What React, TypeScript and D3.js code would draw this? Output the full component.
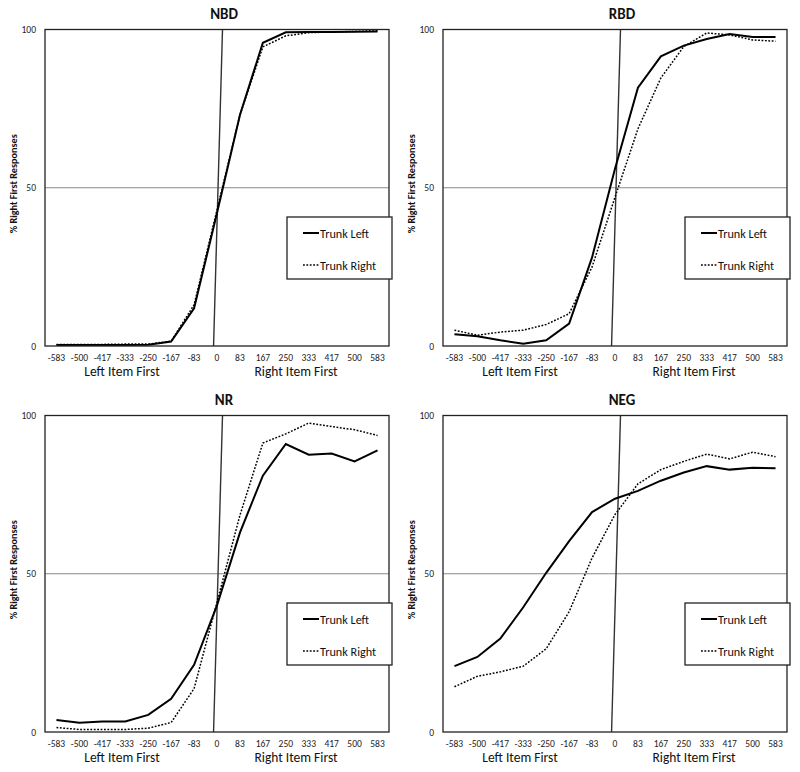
import * as d3 from 'd3'

const categories = ['-583', '-500', '-417', '-333', '-250', '-167', '-83', '0', '83', '167', '250', '333', '417', '500', '583']
const yTicks = [0, 50, 100]
const seriesNames = ['Trunk Left', 'Trunk Right']
const panelTitles = ['NBD', 'RBD', 'NR', 'NEG']

const nbdLeft = [0.3, 0.3, 0.3, 0.3, 0.4, 1.4, 11.9, 42, 73, 95.8, 99.1, 99.2, 99.2, 99.3, 99.4]
const nbdRight = [0.5, 0.5, 0.5, 0.6, 0.6, 1.5, 13, 43, 73, 94.5, 98, 99, 99.2, 99.4, 99.6]
const rbdLeft = [3.7, 3.1, 1.8, 0.7, 1.8, 7.1, 28, 56, 81.6, 91.5, 94.9, 97, 98.6, 97.6, 97.6]
const rbdRight = [5, 3.4, 4.4, 5, 6.8, 10.2, 25, 47, 68.6, 84.7, 94.6, 98.9, 98.3, 96.7, 96.3]
const nrLeft = [3.8, 2.9, 3.3, 3.3, 5.4, 10.5, 21.2, 40, 63, 81, 91, 87.6, 88, 85.5, 89]
const nrRight = [1.4, 0.8, 0.8, 0.8, 1.2, 3, 13.7, 41, 68.5, 91.3, 94.2, 97.6, 96.5, 95.5, 93.7]
const negLeft = [20.8, 23.7, 29.5, 39.4, 50.3, 60.3, 69.5, 73.7, 76.2, 79.4, 82, 84, 82.9, 83.5, 83.3]
const negRight = [14.3, 17.6, 19, 20.8, 26.3, 38, 55, 68.7, 78.4, 82.9, 85.5, 87.8, 86.3, 88.4, 87]

const leftSeries = [nbdLeft, rbdLeft, nrLeft, negLeft]
const rightSeries = [nbdRight, rbdRight, nrRight, negRight]

// the slanted "simultaneous" marker, in category-index units (bottom, top)
const zeroMarker = [6.85, 7.24]

const FONT = 'Carlito, Calibri, Lato, sans-serif'
const L = 45, R = 389, T = 29.5, B = 346

function Panel({ title, left, right, ox, oy }: { title: string; left: number[]; right: number[]; ox: number; oy: number }) {
  const x = d3.scaleLinear().domain([-0.5, categories.length - 0.5]).range([L, R])
  const y = d3.scaleLinear().domain([0, 100]).range([B, T])
  const line = d3.line<number>().x((_, i) => x(i)).y(d => y(d))

  return (
    <g transform={`translate(${ox},${oy})`} fontFamily={FONT}>
      <text x={224} y={19} textAnchor="middle" fontSize={15} fontWeight="bold" fill="#111">{title}</text>
      <line x1={L} x2={R} y1={y(50)} y2={y(50)} stroke="#8a8a8a" strokeWidth={1} />
      <line x1={x(zeroMarker[0])} x2={x(zeroMarker[1])} y1={B} y2={T} stroke="#333" strokeWidth={1.4} />
      <path d={line(right) ?? ''} fill="none" stroke="#000" strokeWidth={1.5} strokeDasharray="1.8 1.6" />
      <path d={line(left) ?? ''} fill="none" stroke="#000" strokeWidth={2} />
      <rect x={L} y={T} width={R - L} height={B - T} fill="none" stroke="#222" strokeWidth={1.3} />
      {yTicks.map(t => (
        <text key={t} x={36} y={y(t) + 3.5} textAnchor="end" fontSize={9.5} fill="#222">{t}</text>
      ))}
      {categories.map((c, i) => (
        <text key={c} x={x(i)} y={360.6} textAnchor="middle" fontSize={9.5} fill="#222">{c}</text>
      ))}
      <text x={122} y={376} textAnchor="middle" fontSize={13.5} fill="#111">Left Item First</text>
      <text x={296} y={376} textAnchor="middle" fontSize={13.5} fill="#111">Right Item First</text>
      <text transform={`translate(17,${(T + B) / 2 - 4}) rotate(-90)`} textAnchor="middle" fontSize={10.2} fontWeight="bold" fill="#111">% Right First Responses</text>
      <rect x={287} y={217} width={105} height={62} fill="#fff" stroke="#222" strokeWidth={1.3} />
      <line x1={303} x2={319} y1={233} y2={233} stroke="#000" strokeWidth={2} />
      <text x={320} y={237.5} fontSize={12.2} fill="#111">{seriesNames[0]}</text>
      <line x1={303} x2={319} y1={265} y2={265} stroke="#000" strokeWidth={1.5} strokeDasharray="1.8 1.6" />
      <text x={320} y={269.5} fontSize={12.2} fill="#111">{seriesNames[1]}</text>
    </g>
  )
}

export default function App() {
  const offsets = [[0, 0], [398, 0], [0, 386], [398, 386]]
  return (
    <svg width={800} height={772} style={{ position: 'absolute', left: 0, top: 0, background: '#fff' }}>
      <rect width={800} height={772} fill="#fff" />
      {panelTitles.map((t, i) => (
        <Panel key={t} title={t} left={leftSeries[i]} right={rightSeries[i]} ox={offsets[i][0]} oy={offsets[i][1]} />
      ))}
    </svg>
  )
}
